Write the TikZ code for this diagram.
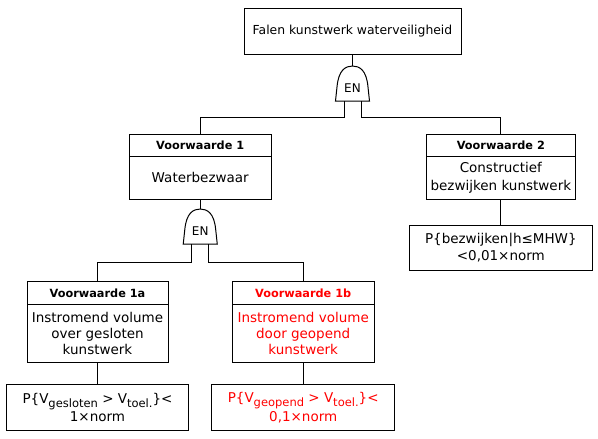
\documentclass[tikz,border=0pt]{standalone}
\usepackage{fontspec}
\setmainfont{DejaVu Sans}
\definecolor{fred}{RGB}{255,0,0}
\tikzset{
  ln/.style={line width=1pt, draw=black},
  bx/.style={ln, rectangle, inner sep=0pt, align=center, font=\fontsize{13.5}{16}\selectfont},
  hd/.style={bx, font=\fontsize{11.3}{13}\selectfont\bfseries},
  redtxt/.style={text=fred},
  gatelbl/.style={inner sep=0pt, font=\fontsize{12}{14}\selectfont}
}
\newcommand\sbs[1]{\raisebox{-0.3em}{\fontsize{11.5}{12}\selectfont #1}}
\newcommand\andgate[2]{%
  \begin{scope}[shift={#2}]
    \draw[ln] (-17,0) -- (-15.5,-14) .. controls (-14,-31) and (-7,-35) .. (0,-35)
      .. controls (7,-35) and (14,-31) .. (15.5,-14) -- (17,0) -- cycle;
    \node[gatelbl] (#1) at (0,-13) {EN};
    \coordinate (#1top) at (0,-35);
    \coordinate (#1l) at (-8.5,0);
    \coordinate (#1r) at (8.5,0);
  \end{scope}}
\begin{document}
\begin{tikzpicture}[x=1pt,y=-1pt]
\useasboundingbox (0,0) rectangle (598,439);

% top event
\node[bx, font=\fontsize{12.4}{15}\selectfont, minimum width=217, minimum height=45.5] (top) at (352.5,31.25) {Falen kunstwerk waterveiligheid};
\andgate{g1}{(352.5,101)}

% Voorwaarde 1
\node[hd, minimum width=142.5, minimum height=22.7] (v1h) at (200.25,145.35) {Voorwaarde 1};
\node[bx, minimum width=142.5, minimum height=42.3] (v1b) at (200.25,177.85) {Waterbezwaar};

% Voorwaarde 2
\node[hd, minimum width=148.3, minimum height=22.7] (v2h) at (500.85,145.35) {Voorwaarde 2};
\node[bx, minimum width=148.3, minimum height=42.3] (v2b) at (500.85,177.85) {Constructief\\[1.5pt]bezwijken kunstwerk};
\node[bx, minimum width=183, minimum height=45.7] (p2) at (500.85,247.85) {P\{bezwijken|h≤MHW\}\\[1pt]<0,01×norm};

\andgate{g2}{(200.25,244)}

% Voorwaarde 1a
\node[hd, minimum width=141, minimum height=22.6] (v1ah) at (97.5,293) {Voorwaarde 1a};
\node[bx, minimum width=141, minimum height=58] (v1ab) at (97.5,333.3) {Instromend volume\\over gesloten\\kunstwerk};
\node[bx, minimum width=182.6, minimum height=46.2] (p1a) at (97.5,407.6) {P\{V\sbs{gesloten} > V\sbs{toel.}\}<\\[1pt]1×norm};

% Voorwaarde 1b
\node[hd, redtxt, minimum width=142, minimum height=22.6] (v1bh) at (303.2,293) {Voorwaarde 1b};
\node[bx, redtxt, minimum width=142, minimum height=58] (v1bb) at (303.2,333.3) {Instromend volume\\door geopend\\kunstwerk};
\node[bx, redtxt, minimum width=182.6, minimum height=45.5] (p1b) at (303.2,407.7) {P\{V\sbs{geopend} > V\sbs{toel.}\}<\\[1pt]0,1×norm};

% connectors
\draw[ln] (top.south) -- (g1top);
\draw[ln] (g1l) -- ++(0,16) -| (v1h.north);
\draw[ln] (g1r) -- ++(0,16) -| (v2h.north);
\draw[ln] (v1b.south) -- (g2top);
\draw[ln] (g2l) -- ++(0,18.7) -| (v1ah.north);
\draw[ln] (g2r) -- ++(0,18.7) -| (v1bh.north);
\draw[ln] (v1ab.south) -- (p1a.north);
\draw[ln] (v1bb.south) -- (p1b.north);
\draw[ln] (v2b.south) -- (p2.north);
\end{tikzpicture}
\end{document}
